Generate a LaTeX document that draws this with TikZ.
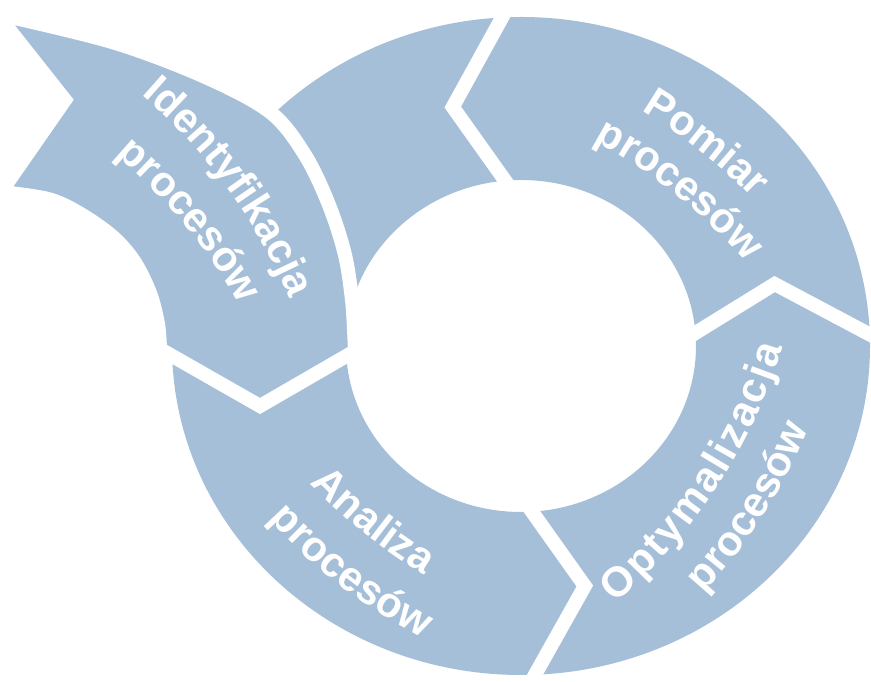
\documentclass[tikz,border=0pt]{standalone}
\usepackage{fontspec}
\setmainfont{Liberation Sans}
\usetikzlibrary{calc,decorations.text}
\definecolor{bl}{RGB}{166,191,217}
\newcommand\lblfont{\bfseries\fontsize{42}{48}\selectfont}
\newcommand\Rt{550pt}
\tikzset{
  gapline/.style={draw=white, line width=14pt, line join=miter},
  band/.style={fill=bl, draw=white, line width=14pt, line join=miter},
  lbl/.style 2 args={decorate, decoration={text along path, text align=#2,
      text color=white, text={|\lblfont|#1}}},
}
% text whose letter tops point away from the ring centre:
% #1 text, #2 baseline centre, #3 up angle, #4 half arc angle, #5 alignment
\newcommand\txtup[5]{%
  \path[lbl={#1}{#5}] ($(#2)+({#3+180}:\Rt)+({#3+#4}:\Rt)$)
    arc[start angle={#3+#4}, end angle={#3-#4}, radius=\Rt];}
% text whose letter tops point to the ring centre
\newcommand\txtin[5]{%
  \path[lbl={#1}{#5}] ($(#2)+({#3}:\Rt)+({#3+180-#4}:\Rt)$)
    arc[start angle={#3+180-#4}, end angle={#3+180+#4}, radius=\Rt];}
\begin{document}
\begin{tikzpicture}[x=1pt,y=1pt]
\fill[white] (0,0) rectangle (871,682);
\useasboundingbox (0,0) rectangle (871,682);
\begin{scope}[shift={(521,336)}]
  % ring
  \fill[bl, even odd rule] (0,0) ellipse[x radius=349pt, y radius=329pt]
                           (0,0) ellipse[x radius=175pt, y radius=166pt];
  % chevron Optymalizacja -> Pomiar
  \coordinate (chAi) at (4.5:175pt and 166pt);
  \coordinate (chAt) at (14.5:262pt and 247.5pt);
  \coordinate (chAo) at (2:349pt and 329pt);
  \draw[gapline] ($(chAt)!1.4!(chAi)$) -- (chAt) -- ($(chAt)!1.3!(chAo)$);
  % chevron Pomiar -> top segment
  \coordinate (chBi) at (95.2:175pt and 166pt);
  \coordinate (chBt) at (105.1:262pt and 247.5pt);
  \coordinate (chBo) at (93.1:349pt and 329pt);
  \draw[gapline] ($(chBt)!1.4!(chBi)$) -- (chBt) -- ($(chBt)!1.3!(chBo)$);
  % chevron Analiza -> Optymalizacja
  \coordinate (chDi) at (273.6:175pt and 166pt);
  \coordinate (chDt) at (284.1:262pt and 247.5pt);
  \coordinate (chDo) at (272.3:349pt and 329pt);
  \draw[gapline] ($(chDt)!1.4!(chDi)$) -- (chDt) -- ($(chDt)!1.3!(chDo)$);
\end{scope}
% Identyfikacja arrow
\path[band] (-3,668) -- (65,582) -- (1,490)
  -- plot[smooth, tension=0.55] coordinates {(1,490) (48,483) (79,469) (112,446) (134,421) (150,389) (158,358) (160,333)}
  -- (260,276) -- (355,331)
  -- plot[smooth, tension=0.55] coordinates {(355,331) (354,352) (352,382) (345,427) (329,477) (305,527) (270,570) (203,606) (112,640) (-3,668)}
  -- cycle;
% label baselines (centre points)
\coordinate (bIdA) at (227.7,493.7);
\coordinate (bIdB) at (184,457.7);
\coordinate (bPoA) at (700,531);
\coordinate (bPoB) at (675.6,487.4);
\coordinate (bAnA) at (363.6,149.3);
\coordinate (bAnB) at (340.3,96.5);
\coordinate (bOpA) at (717.2,194.8);
\coordinate (bOpB) at (763.4,166.6);
\txtup{Identyfikacja}{bIdA}{35.9}{22}{center}
\txtup{procesów}{bIdB}{39.7}{22}{center}
\txtup{Pomiar}{bPoA}{51.8}{22}{center}
\txtup{procesów}{bPoB}{51.6}{22}{center}
\txtin{Analiza}{bAnA}{51.2}{22}{center}
\txtin{procesów}{bAnB}{52.2}{22}{center}
\txtin{Optymalizacja}{bOpA}{146.9}{16.12}{fit to path}
\txtin{procesów}{bOpB}{147.6}{22}{center}
\end{tikzpicture}
\end{document}
